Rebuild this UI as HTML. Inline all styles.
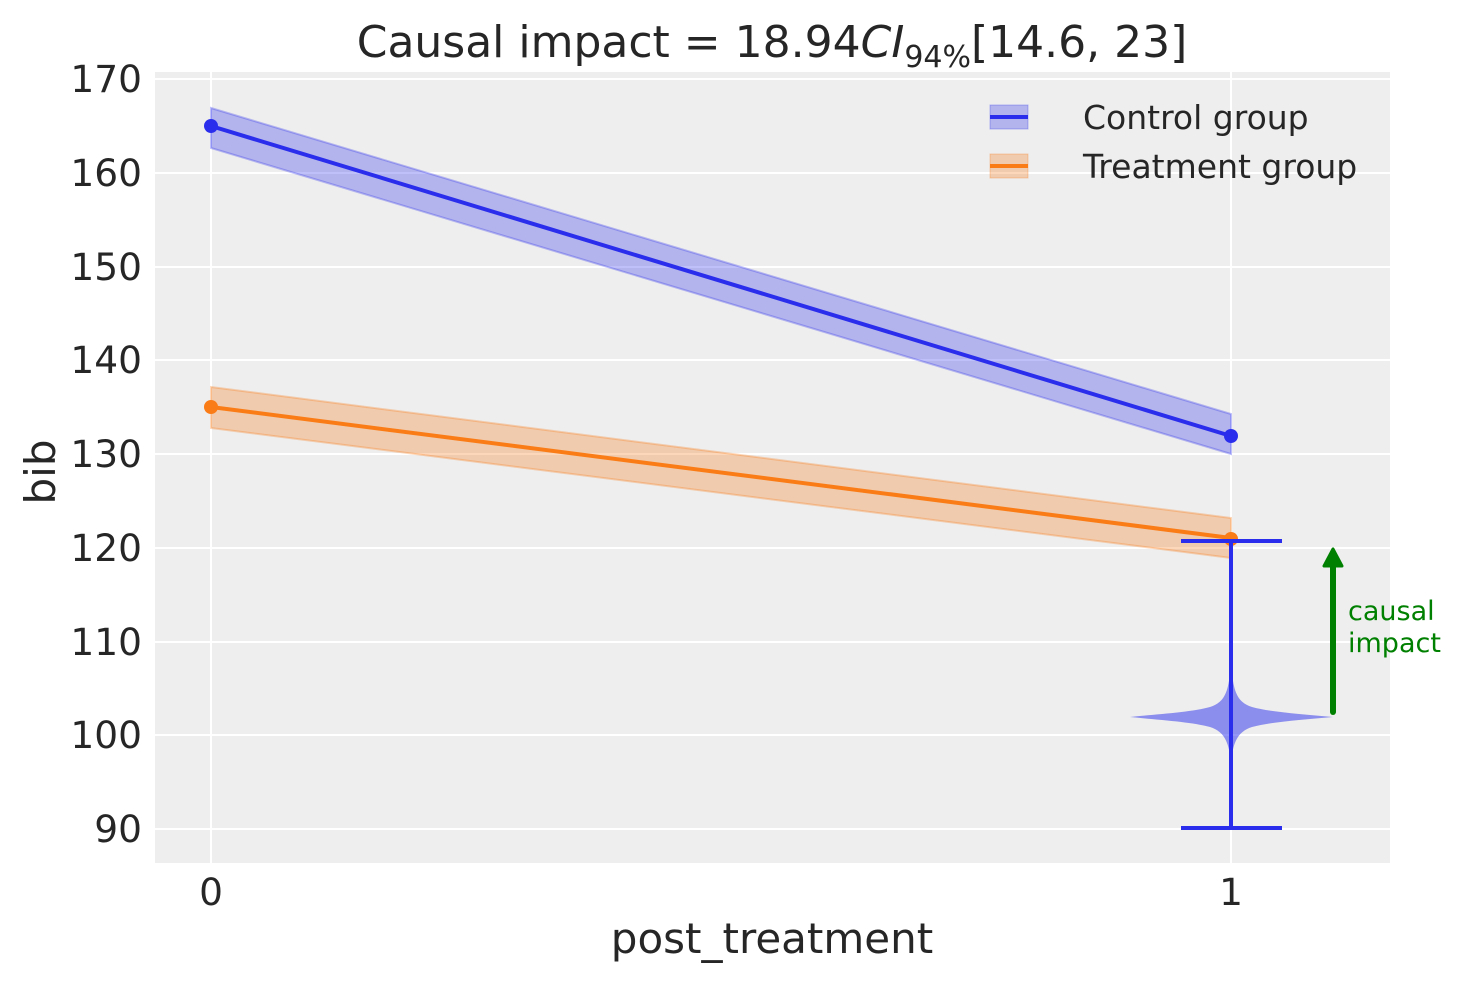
<!DOCTYPE html>
<html><head><meta charset="utf-8"><style>
body{margin:0;background:#fff;}
svg{display:block;font-family:"DejaVu Sans","Liberation Sans",sans-serif;}
</style></head><body>
<svg width="1463" height="983" viewBox="0 0 1463 983">
<rect x="155" y="72" width="1235" height="791" fill="#eeeeee"/>
<g stroke="#fff" stroke-width="2">
<line x1="155" x2="1390" y1="79" y2="79"/>
<line x1="155" x2="1390" y1="173" y2="173"/>
<line x1="155" x2="1390" y1="267" y2="267"/>
<line x1="155" x2="1390" y1="360" y2="360"/>
<line x1="155" x2="1390" y1="454" y2="454"/>
<line x1="155" x2="1390" y1="548" y2="548"/>
<line x1="155" x2="1390" y1="642" y2="642"/>
<line x1="155" x2="1390" y1="735" y2="735"/>
<line x1="155" x2="1390" y1="829" y2="829"/>
<line x1="211" x2="211" y1="72" y2="863"/>
<line x1="1231" x2="1231" y1="72" y2="863"/>
</g>
<g font-size="37.5" fill="#262626" text-anchor="end">
<text x="142" y="92">170</text><text x="142" y="186">160</text><text x="142" y="280">150</text>
<text x="142" y="373">140</text><text x="142" y="467">130</text><text x="142" y="561">120</text>
<text x="142" y="655">110</text><text x="142" y="748">100</text><text x="142" y="842">90</text>
</g>
<g font-size="37.5" fill="#262626" text-anchor="middle">
<text x="211" y="905">0</text><text x="1231" y="905">1</text>
</g>
<g font-size="42" fill="#262626" text-anchor="middle">
<text x="772" y="953">post_treatment</text>
<text x="772" y="57" font-size="44">Causal impact = 18.94<tspan font-style="italic">CI</tspan><tspan font-size="30" dy="10">94%</tspan><tspan dy="-10">[14.6, 23]</tspan></text>
<text transform="translate(55,472) rotate(-90)">bib</text>
</g>
<polygon points="211,108 1231,414 1231,454 211,148" fill="#2a2eec" fill-opacity="0.3" stroke="#2a2eec" stroke-opacity="0.3" stroke-width="2"/>
<polygon points="211,387 1231,518 1231,558 211,428" fill="#fa7c17" fill-opacity="0.3" stroke="#fa7c17" stroke-opacity="0.3" stroke-width="2"/>
<line x1="211" y1="126" x2="1231" y2="436" stroke="#2a2eec" stroke-width="4"/>
<line x1="211" y1="407" x2="1231" y2="538" stroke="#fa7c17" stroke-width="4"/>
<circle cx="211" cy="126" r="7" fill="#2a2eec"/><circle cx="1231" cy="436" r="7" fill="#2a2eec"/>
<circle cx="211" cy="407" r="7" fill="#fa7c17"/><circle cx="1231" cy="539" r="7" fill="#fa7c17"/>
<path d="M1231,662 C1233,690 1236,702 1252,707 C1270,712 1300,714 1333,717 C1300,720 1270,722 1252,727 C1236,732 1233,745 1231,762 C1229,745 1226,732 1210,727 C1192,722 1160,720 1130,717 C1160,714 1192,712 1210,707 C1226,702 1229,690 1231,662 Z" fill="#2a2eec" fill-opacity="0.5"/>
<g stroke="#2a2eec" stroke-width="4">
<line x1="1231" y1="541" x2="1231" y2="828"/>
<line x1="1181" y1="541" x2="1282" y2="541"/>
<line x1="1181" y1="828" x2="1282" y2="828"/>
</g>
<line x1="1333" y1="712" x2="1333" y2="565" stroke="#008000" stroke-width="6" stroke-linecap="round"/>
<polygon points="1333,549 1324,566 1342,566" fill="#008000" stroke="#008000" stroke-width="3" stroke-linejoin="round"/>
<g font-size="27" fill="#008000"><text x="1348" y="620">causal</text><text x="1348" y="652">impact</text></g>
<rect x="990" y="105" width="38" height="24" fill="#2a2eec" fill-opacity="0.3" stroke="#2a2eec" stroke-opacity="0.3"/>
<line x1="990" x2="1028" y1="117" y2="117" stroke="#2a2eec" stroke-width="4"/>
<rect x="990" y="154" width="38" height="24" fill="#fa7c17" fill-opacity="0.3" stroke="#fa7c17" stroke-opacity="0.3"/>
<line x1="990" x2="1028" y1="166" y2="166" stroke="#fa7c17" stroke-width="4"/>
<g font-size="33" fill="#262626"><text x="1083" y="129">Control group</text><text x="1083" y="178">Treatment group</text></g>
</svg>
</body></html>
